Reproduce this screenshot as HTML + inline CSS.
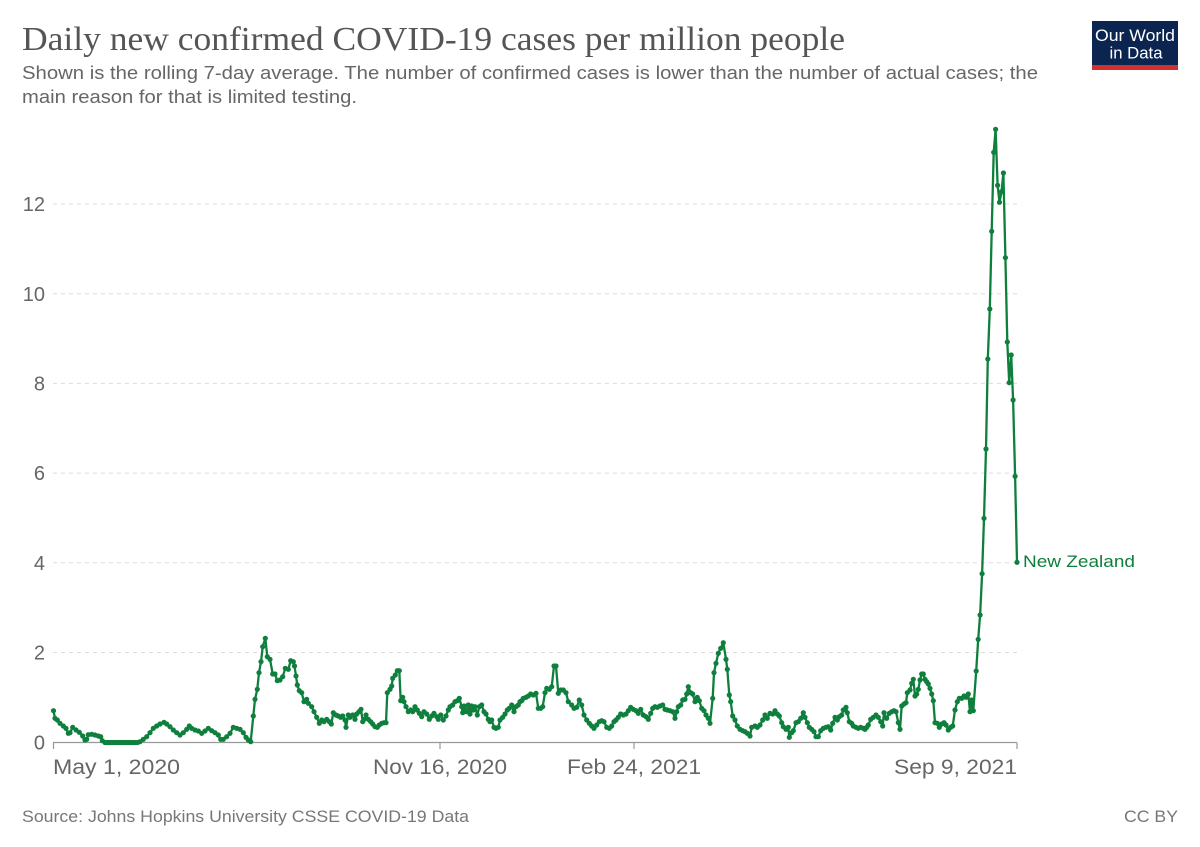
<!DOCTYPE html>
<html>
<head>
<meta charset="utf-8">
<style>
html,body{margin:0;padding:0;background:#fff;}
body{width:1200px;height:847px;overflow:hidden;}
svg{display:block;}
</style>
</head>
<body>
<svg width="1200" height="847" viewBox="0 0 1200 847" xmlns="http://www.w3.org/2000/svg">
<defs>
<marker id="dot" markerUnits="userSpaceOnUse" markerWidth="7" markerHeight="7" refX="3.5" refY="3.5" viewBox="0 0 7 7">
<circle cx="3.5" cy="3.5" r="2.6" fill="#0e7f3c"/>
</marker>
</defs>
<rect x="0" y="0" width="1200" height="847" fill="#fff"/>

<!-- Title -->
<text x="22" y="50" font-family="Liberation Serif, serif" font-size="34" fill="#555" textLength="823" lengthAdjust="spacingAndGlyphs">Daily new confirmed COVID-19 cases per million people</text>
<text x="22" y="79" font-family="Liberation Sans, sans-serif" font-size="18.5" fill="#666" textLength="1016" lengthAdjust="spacingAndGlyphs">Shown is the rolling 7-day average. The number of confirmed cases is lower than the number of actual cases; the</text>
<text x="22" y="103" font-family="Liberation Sans, sans-serif" font-size="18.5" fill="#666" textLength="335" lengthAdjust="spacingAndGlyphs">main reason for that is limited testing.</text>

<!-- Logo -->
<rect x="1092" y="21" width="86" height="49" fill="#0c2550"/>
<rect x="1092" y="65" width="86" height="5" fill="#d0312d"/>
<text x="1135" y="41" font-family="Liberation Sans, sans-serif" font-size="16.5" fill="#fff" text-anchor="middle" textLength="80" lengthAdjust="spacingAndGlyphs">Our World</text>
<text x="1136" y="58.5" font-family="Liberation Sans, sans-serif" font-size="16.5" fill="#fff" text-anchor="middle" textLength="53" lengthAdjust="spacingAndGlyphs">in Data</text>

<!-- Gridlines -->
<g stroke="#dcdcdc" stroke-width="1" stroke-dasharray="4,4">
<line x1="53" y1="652.5" x2="1017" y2="652.5"/>
<line x1="53" y1="562.8" x2="1017" y2="562.8"/>
<line x1="53" y1="473.1" x2="1017" y2="473.1"/>
<line x1="53" y1="383.4" x2="1017" y2="383.4"/>
<line x1="53" y1="293.7" x2="1017" y2="293.7"/>
<line x1="53" y1="204" x2="1017" y2="204"/>
</g>

<!-- Y labels -->
<g font-family="Liberation Sans, sans-serif" font-size="20" fill="#666" text-anchor="end">
<text x="45" y="749.5">0</text>
<text x="45" y="659.5">2</text>
<text x="45" y="570">4</text>
<text x="45" y="480">6</text>
<text x="45" y="390.5">8</text>
<text x="45" y="301">10</text>
<text x="45" y="211">12</text>
</g>

<!-- X axis -->
<line x1="53" y1="742.5" x2="1017" y2="742.5" stroke="#999" stroke-width="1.2"/>
<g stroke="#999" stroke-width="1.2">
<line x1="53.5" y1="742.5" x2="53.5" y2="749"/>
<line x1="440" y1="742.5" x2="440" y2="749"/>
<line x1="634" y1="742.5" x2="634" y2="749"/>
<line x1="1017" y1="742.5" x2="1017" y2="749"/>
</g>
<g font-family="Liberation Sans, sans-serif" font-size="21" fill="#666">
<text x="53" y="774" textLength="127" lengthAdjust="spacingAndGlyphs">May 1, 2020</text>
<text x="440" y="774" text-anchor="middle" textLength="134" lengthAdjust="spacingAndGlyphs">Nov 16, 2020</text>
<text x="634" y="774" text-anchor="middle" textLength="134" lengthAdjust="spacingAndGlyphs">Feb 24, 2021</text>
<text x="1017" y="774" text-anchor="end" textLength="123" lengthAdjust="spacingAndGlyphs">Sep 9, 2021</text>
</g>

<!-- Series -->
<polyline fill="none" stroke="#0e7f3c" stroke-width="2.3" stroke-linejoin="round"
marker-start="url(#dot)" marker-mid="url(#dot)" marker-end="url(#dot)"
points="
53.5,710.7 55,718.3 57.3,720 60,723.3 63.3,726 66,728.3 68.3,733.3 70,732.7 72.7,727.3 76,730 79.3,732.3 82.7,736 85,740 86.7,739.3 88.3,734.7 91.7,734.3 95,735 98.3,736 100.7,736.7 102.3,740.7
105,742.5 107,742.5 109,742.5 111,742.5 113,742.5 115,742.5 117,742.5 119,742.5 121,742.5 123,742.5 125,742.5 127,742.5 129,742.5 131,742.5 133,742.5 135,742.5 137.5,742.5
140,741.7 143.3,739.3 146.7,736.7 150,732.7 153.3,728.3 156.7,726 160,724 164,722.3 166.7,724 170,726.7 173.3,730 176.7,732.7 180,735 183.3,732.7 186.7,729.3 189.3,726 191.7,728.3 195,730 198.3,731 201.7,733.3 205,731 208.3,728.3 211.7,730.7 215,732.7 218.3,735 220.7,739.3 223.3,739.3 226.7,736.7 230,733.3 233.3,727.3 236.7,728.3 240,729.3 243.3,732.7 246,737.3 248.3,740 250.7,741.7
253.3,716 255,699.3 257.3,689.3 259,672.7 261,661.7 262.7,646.7 265.3,638.3 267.3,656.7 270,659.3 272.7,674 275,674 277.3,680.7 280,680 282.7,676.7 285.3,668.3 288.3,669.3 290.7,660.7 293.3,661.7
294.5,666 296,676 297.3,685 299.3,690.7 301.7,692.7 304,701.7 306.7,699.3 308.3,703.3 311.7,706.7 314,711.7 316.7,717.3 319.3,723.3 321.7,720 324,721.7 326.7,719.3 329.3,721.7 331.3,724 333.3,712.7 336,715 338.3,716 340.7,717.3 342.7,716 345,720 346,727.3 348.3,715 350,717.3 352.7,715 355,719.3 356.7,714 359,711.7 361,709.3 362.7,721.7 364,719.3 366,715 368.3,719.3 370.7,721.7 372.7,724 375,726.7 377.3,727.3 379.3,725 381.7,723.3 384,722.7 386,722.7
387.3,692.7 390,689.3 391.7,686 392.7,678.3 395.3,675 397.3,670.7 399.3,670.7 400.7,700.7 402.7,697.3 404,701.7 406,706.7 408.3,711.7 410.7,710 412.7,711.7 415,706.7 417.3,710 419.3,713.3 421.7,716.7 424,711.7 426.7,714 429.3,719.3 431.7,716 434,713.3 436.7,716.7 438.3,719.3 440.7,715 443.3,720 446,716 448.3,710 450,706.7 452.7,705 455,701.7 457.3,700.7 459.3,698.3 461.7,706.7 462.7,712.7 464,706 466,711.7 468.3,705 470,714 471.7,706 473.3,710 475,706.7 477.3,715 479.3,706.7 481.7,705 484,711.7 486,714 488.3,719.3 490,721.7 491.7,720 494,727.3 496,728.3 498.3,727.3 500,720 502.7,717.3 505,714 507.3,710 509.3,708.3 511.7,705 514,711.7 516,706.7 518.3,705 520,701.7 521.7,700.7 523.3,698.3 526,697.3 528.3,696 530.7,694 533.3,695 536,693.3 538.3,708.3 540.7,708.3 542.7,706.7 545,692.7 546.7,688.3 549.3,689.3 551.7,686.7 554,666 556,666 558.3,693.3 560.7,690 563.3,690 566,692.7 568.3,701.7
571.7,705 574,708.3 576.7,707.3 579.3,700 581.7,705 584,715 586.7,720 589.3,723.3 591.7,726 594,728.3 596.7,725 599.3,721.7 601.7,720.7 604,721.7 606.7,727.3 609.3,728.3 611.7,726 614,721.7 616,720 618.3,717.3 620.7,714 623.3,715 626,714 628.3,710.7 630.7,707.3 633.3,709.3 636,710.7 638.3,713.3 640.7,709.3 643.3,715 646,716.7 648.3,719.3 650.7,713.3 652.7,708.3 655,706.7 657.3,707.3 660,706 662.7,705 665,709.3 667.3,710 670,710.7 672.7,711.7 675,718.3 676.7,711.7 678.3,706.7 680.7,705 682.7,700 685,699.3 686.7,694 688.3,686.7 690.7,692.7 692.7,694 695,701.7 697.3,697.3 699.3,700.7 701.7,708.3 704,710.7 706,715 708.3,718.3 710,723.3
712.7,698.3 714,672.7 716,663.3 718.3,653.3 720.7,648.3 723.3,642.7 726,659.3 727.3,669.3 729.3,695 730.7,701.7 732.7,716 735,720 737.3,726 740,729.3 742.7,730.7 745,731.7 747.3,733.3 750,736
751.7,727.3 755,726 757.3,727.3 760,725 762.7,720 765,715 767.3,718.3 770,713.3 772.7,714 775,710.7 777.3,714 779.3,716 781.7,722.7 783.3,726.7 786,729.3 788.3,727.3 789.3,737.3 791.7,732.7 793.3,730.7 796,722.7 798.3,721.7 800.7,718.3 803.3,712.7 805,717.3 807.3,722.7 809.3,727.3 811.7,729.3 814,731.7 816,736.7 818.3,736.7 820.7,730.7 823.3,728.3 826,727.3 828.3,726.7 830.7,730 832.7,723.3 835,717.3 837.3,720 839.3,716.7 841.7,715 843.3,710 846,707.3 847.3,712.7 849.3,721.7 851.7,723.3 853.3,726 856,727.3 858.3,728.3 860.7,727.3 863.3,728.3 865,729.3 866.7,727.3 868.3,725 870.7,719.3 873.3,717.3 876,715 878.3,717.3 880.7,721.7 882.7,726 884,712.7 886.7,718.3 889.3,713.3 891.7,711.7 894,710.7 896,711.7 898.3,722.7 900,729.3
901.7,706 904,704 906,702.7 907.3,692.7 910,690 911.7,683.3 913.3,679.3 915,696 916.7,694 918.3,689.3 920,680 921.7,674 923.3,674 925,679.3 926.7,681.7 928.3,684 930,688.3 931.7,694 933.3,700.7 935,722.7 937.3,723.3 939.3,727.3 941.7,724 944,722.7 946,725 948.3,730 950.7,727.3 952.7,726 955,710 957.3,701.7 959.3,698.3 961.7,698.3 964,696 966,697.3 968.3,694 970,711.7 971.7,700 973.3,710.7
976.2,671 978.2,639.3 980.1,615 982.1,573.7 984,518.3 986,449 987.8,359 989.8,309 991.7,231.3 993.7,152.3 995.6,129.3 997.6,185.3 999.5,202.3 1001.5,191.7 1003.4,173 1005.4,257.7 1007.3,342 1009.2,382.7 1011.2,355 1013.1,400 1015.1,476.3 1017,562.3"/>

<text x="1023" y="567" font-family="Liberation Sans, sans-serif" font-size="17" fill="#0e7f3c" textLength="112" lengthAdjust="spacingAndGlyphs">New Zealand</text>

<!-- Footer -->
<text x="22" y="822" font-family="Liberation Sans, sans-serif" font-size="17" fill="#777" textLength="447" lengthAdjust="spacingAndGlyphs">Source: Johns Hopkins University CSSE COVID-19 Data</text>
<text x="1178" y="822" font-family="Liberation Sans, sans-serif" font-size="17" fill="#777" text-anchor="end" textLength="54" lengthAdjust="spacingAndGlyphs">CC BY</text>
</svg>
</body>
</html>
